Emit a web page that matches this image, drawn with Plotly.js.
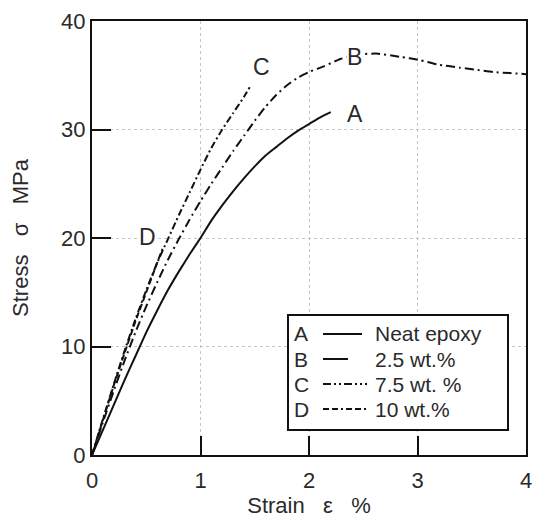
<!DOCTYPE html>
<html>
<head>
<meta charset="utf-8">
<script src="https://cdn.plot.ly/plotly-3.0.1.min.js"></script>
<style>
  html, body { margin: 0; padding: 0; background: #ffffff; }
  #chart { width: 534px; height: 518px; }
</style>
</head>
<body>
<div id="chart"></div>
<script>
// ---- Data ----
const strainA = [0, 0.1, 0.2, 0.3, 0.4, 0.5, 0.6, 0.7, 0.8, 0.9, 1.0, 1.1, 1.2, 1.3, 1.4, 1.5, 1.6, 1.7, 1.8, 1.9, 2.0, 2.1, 2.2];
const stressA = [0, 2.3, 4.6, 6.9, 9.1, 11.3, 13.3, 15.2, 16.9, 18.5, 20.0, 21.6, 23.0, 24.3, 25.5, 26.6, 27.6, 28.4, 29.2, 29.9, 30.5, 31.1, 31.6];

const strainB = [0, 0.1, 0.2, 0.3, 0.4, 0.5, 0.6, 0.7, 0.8, 0.9, 1.0, 1.1, 1.2, 1.3, 1.4, 1.5, 1.6, 1.7, 1.8, 1.9, 2.0, 2.13, 2.29, 2.45, 2.62, 2.84, 3.02, 3.18, 3.39, 3.55, 3.7, 3.85, 4.0];
const stressB = [0, 3.0, 5.9, 8.7, 11.3, 13.7, 15.9, 18.0, 19.9, 21.7, 23.4, 25.0, 26.5, 28.0, 29.4, 30.8, 32.1, 33.2, 34.1, 34.8, 35.3, 35.8, 36.5, 36.9, 37.0, 36.7, 36.4, 36.0, 35.7, 35.5, 35.3, 35.2, 35.1];

const strainC = [0, 0.1, 0.2, 0.3, 0.4, 0.5, 0.6, 0.7, 0.8, 0.9, 1.0, 1.1, 1.2, 1.3, 1.4, 1.46];
const stressC = [0, 3.3, 6.5, 9.6, 12.5, 15.2, 17.7, 19.9, 22.1, 24.2, 26.3, 28.3, 30.0, 31.5, 33.0, 34.0];

const strainD = [0, 0.1, 0.2, 0.3, 0.4, 0.5, 0.6, 0.65];
const stressD = [0, 3.2, 6.4, 9.4, 12.3, 15.0, 17.7, 19.0];

const seriesKeys = ['A', 'B', 'C', 'D'];
const seriesNames = ['Neat epoxy', '2.5 wt.%', '7.5 wt. %', '10 wt.%'];

const xTicks = [0, 1, 2, 3, 4];
const yTicks = [0, 10, 20, 30, 40];

// ---- Styles ----
const FONT = 'Liberation Sans, Arial, Helvetica, sans-serif';
const TXT = '#2a2a2a';
const NB = '\u00A0';
const dashes = {
  A: 'solid',
  B: '9px,4px,2px,4px',
  C: '7px,3px,2px,3px',
  D: '6px,3px'
};
const legendDashes = {
  A: 'solid',
  B: 'solid',
  C: '8px,3px,2px,3px,2px,3px',
  D: '6px,3px,6px,3px,2px,3px'
};

const xs = {A: strainA, B: strainB, C: strainC, D: strainD};
const ys = {A: stressA, B: stressB, C: stressC, D: stressD};

const traces = seriesKeys.map((k, i) => ({
  x: xs[k], y: ys[k], type: 'scatter', mode: 'lines', name: seriesNames[i],
  line: {color: '#111', width: 2, dash: dashes[k], shape: 'spline', smoothing: 0.5},
  showlegend: false, hoverinfo: 'skip'
}));

// curve labels
const labelPos = {A: [2.42, 31.4], B: [2.42, 36.7], C: [1.56, 35.8], D: [0.51, 20.1]};
const annotations = seriesKeys.map(k => ({
  x: labelPos[k][0], y: labelPos[k][1], xref: 'x', yref: 'y', text: k, showarrow: false,
  font: {family: FONT, size: 23, color: TXT},
  bgcolor: (k === 'B' || k === 'D') ? 'rgba(255,255,255,1)' : 'rgba(0,0,0,0)', borderpad: 0
}));

// legend box (drawn in paper-pixel terms)
const W = 534, H = 518, mL = 92, mR = 8, mT = 21, mB = 63;
const pw = W - mL - mR, ph = H - mT - mB;
const px = v => (v - mL) / pw;
const py = v => (H - mB - v) / ph;

const shapes = [{
  type: 'rect', xref: 'paper', yref: 'paper',
  x0: px(288), x1: px(508), y0: py(430), y1: py(315),
  line: {color: '#111', width: 2}, fillcolor: 'white', layer: 'above'
}];
const rowY = [334, 359, 384, 409];
const sampleEnd = {A: 362, B: 348, C: 367, D: 367};
seriesKeys.forEach((k, i) => {
  shapes.push({
    type: 'line', xref: 'paper', yref: 'paper',
    x0: px(323), x1: px(sampleEnd[k]), y0: py(rowY[i]), y1: py(rowY[i]),
    line: {color: '#111', width: 2, dash: legendDashes[k]}, layer: 'above'
  });
  annotations.push({
    xref: 'paper', yref: 'paper', x: px(292), y: py(rowY[i]), xanchor: 'left', yanchor: 'middle',
    text: k, showarrow: false, font: {family: FONT, size: 21, color: TXT}
  });
  annotations.push({
    xref: 'paper', yref: 'paper', x: px(373), y: py(rowY[i]), xanchor: 'left', yanchor: 'middle',
    text: seriesNames[i], showarrow: false, font: {family: FONT, size: 21, color: TXT}
  });
});

const layout = {
  width: W, height: H,
  margin: {l: mL, r: mR, t: mT, b: mB, pad: 0},
  paper_bgcolor: 'white', plot_bgcolor: 'white',
  showlegend: false,
  font: {family: FONT, size: 22, color: TXT},
  xaxis: {
    range: [0, 4], tickvals: xTicks, ticktext: xTicks.map(String),
    ticks: 'inside', ticklen: 19, tickwidth: 2, tickcolor: '#111',
    showline: true, linecolor: '#111', linewidth: 2, mirror: true,
    showgrid: true, gridcolor: '#c4c4c4', gridwidth: 1, griddash: 'dot',
    zeroline: false, tickfont: {family: FONT, size: 22, color: TXT},
    ticklabelstandoff: 5,
    title: {text: 'Strain' + NB + NB + NB + 'ε' + NB + NB + NB + '%', font: {family: FONT, size: 22, color: TXT}, standoff: 8},
    fixedrange: true
  },
  yaxis: {
    range: [0, 40], tickvals: yTicks, ticktext: yTicks.map(String),
    ticks: 'inside', ticklen: 19, tickwidth: 2, tickcolor: '#111',
    showline: true, linecolor: '#111', linewidth: 2, mirror: true,
    showgrid: true, gridcolor: '#c4c4c4', gridwidth: 1, griddash: 'dot',
    zeroline: false, tickfont: {family: FONT, size: 22, color: TXT},
    title: {text: 'Stress' + NB + NB + NB + 'σ' + NB + NB + NB + 'MPa', font: {family: FONT, size: 22, color: TXT}, standoff: 26},
    fixedrange: true
  },
  annotations: annotations,
  shapes: shapes
};

Plotly.newPlot('chart', traces, layout, {staticPlot: true, displayModeBar: false});
</script>
</body>
</html>
